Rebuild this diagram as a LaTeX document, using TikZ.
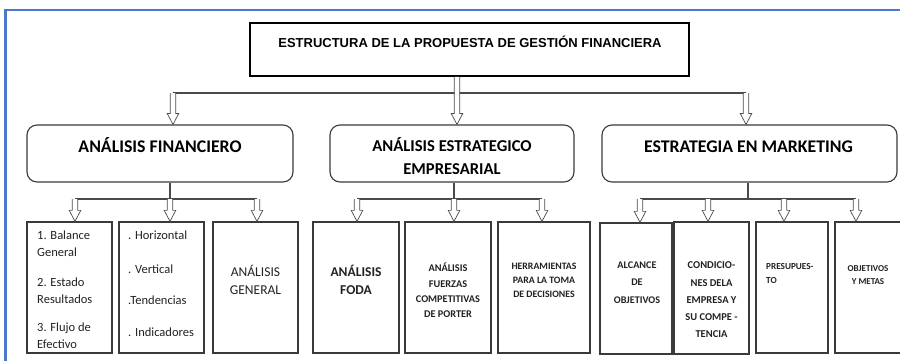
\documentclass[tikz,border=0pt]{standalone}
\usepackage{fontspec}
\setmainfont{Carlito}
\newfontfamily\arialf{Liberation Sans}
\usetikzlibrary{calc}
\definecolor{framec}{HTML}{4A78CF}
\definecolor{linec}{HTML}{4A4A4A}
\definecolor{boxc}{HTML}{3A3A3A}
\definecolor{txtc}{HTML}{222222}
\tikzset{
  titlebox/.style={draw=black, line width=1.8pt, inner sep=0pt},
  roundbox/.style={draw=boxc, line width=1.1pt, rounded corners=10pt, inner sep=0pt, minimum height=57pt},
  leafbox/.style={draw=boxc, line width=1.3pt, inner sep=0pt},
  bar/.style={draw=linec, line width=1.1pt},
  harrow/.style={draw=linec, line width=0.7pt, fill=white,
    to path={let \p1=(\tikztostart), \p2=(\tikztotarget) in
      (\x1-2.7pt,\y1) -- (\x1-2.7pt,\y2+11pt) -- (\x1-5.8pt,\y2+11pt) -- (\x1,\y2)
      -- (\x1+5.8pt,\y2+11pt) -- (\x1+2.7pt,\y2+11pt) -- (\x1+2.7pt,\y1)}},
  txt/.style={inner sep=0pt, text=txtc},
  headtxt/.style={inner sep=0pt, text=black, font=\bfseries\fontsize{17.8}{20}\selectfont, anchor=base},
  bodytxt/.style={txt, font=\fontsize{12.5}{15}\selectfont, anchor=base west},
  bigleaf/.style={txt, font=\fontsize{13.5}{16}\selectfont, anchor=base},
  smallleaf/.style={txt, font=\bfseries\fontsize{#1}{12}\selectfont, anchor=base},
  smallleaf/.default=10
}
\begin{document}
\begin{tikzpicture}[x=1pt,y=-1pt]
\useasboundingbox (0,0) rectangle (900,360);
\clip (0,0) rectangle (900,360);
\fill[white] (0,0) rectangle (900,360);
% blue frame
\draw[framec, line width=2.2pt] (5.5,380) -- (5.5,10) -- (920,10);

% title
\node[titlebox, minimum width=439pt, minimum height=53pt] (T) at (469.5,49.5) {};
\node[inner sep=0pt, anchor=base, font=\arialf\bfseries\fontsize{13}{15}\selectfont] (Tt) at (470,47) {ESTRUCTURA DE LA PROPUESTA DE GESTIÓN FINANCIERA};

% level 2 boxes
\node[roundbox, minimum width=266pt] (A) at (160,153.5) {};
\node[roundbox, minimum width=244pt] (B) at (452,153.5) {};
\node[roundbox, minimum width=295pt] (C) at (749.5,153.5) {};
\node[headtxt] (At) at (160,152) {ANÁLISIS FINANCIERO};
\node[headtxt, font=\bfseries\fontsize{16.6}{20}\selectfont] (Bt1) at (452,151) {ANÁLISIS ESTRATEGICO};
\node[headtxt, font=\bfseries\fontsize{16.6}{20}\selectfont] (Bt2) at (452,174) {EMPRESARIAL};
\node[headtxt] (Ct) at (748.5,152) {ESTRATEGIA EN MARKETING};

% level 3 boxes
\node[leafbox, minimum width=85pt, minimum height=131pt] (A1) at (69.5,287.5) {};
\node[leafbox, minimum width=85pt, minimum height=131pt] (A2) at (161.5,287.5) {};
\node[leafbox, minimum width=85pt, minimum height=131pt] (A3) at (255.5,287.5) {};
\node[leafbox, minimum width=86pt, minimum height=131pt] (B1) at (356,287.5) {};
\node[leafbox, minimum width=86pt, minimum height=131pt] (B2) at (448,287.5) {};
\node[leafbox, minimum width=92pt, minimum height=131pt] (B3) at (544,287.5) {};
\node[leafbox, minimum width=72pt, minimum height=131pt] (C1) at (636,288.5) {};
\node[leafbox, minimum width=75pt, minimum height=132pt] (C2) at (711.5,288) {};
\node[leafbox, minimum width=72pt, minimum height=131pt] (C3) at (792,287.5) {};
\node[leafbox, minimum width=70pt, minimum height=131pt] (C4) at (870,287.5) {};

% top connectors
\coordinate (ta) at (173,93);
\coordinate (tb) at (457,93);
\coordinate (tc) at (746,93);
\draw[bar] (ta) -- (tc);
\draw[harrow] (ta) to (ta |- A.north);
\draw[harrow] (tb |- T.south) to (tb |- B.north);
\draw[harrow] (tc) to (tc |- C.north);

% A connectors
\coordinate (sa) at (170,199);
\coordinate (a1) at (75,199);
\coordinate (a3) at (257,199);
\draw[bar] (sa |- A.south) -- (sa);
\draw[bar] (a1) -- (a3);
\draw[harrow] (a1) to (a1 |- A1.north);
\draw[harrow] (sa) to (sa |- A2.north);
\draw[harrow] (a3) to (a3 |- A3.north);

% B connectors
\coordinate (sb) at (454,199);
\coordinate (b1) at (357,199);
\coordinate (b3) at (542,199);
\draw[bar] (sb |- B.south) -- (sb);
\draw[bar] (b1) -- (b3);
\draw[harrow] (b1) to (b1 |- B1.north);
\draw[harrow] (sb) to (sb |- B2.north);
\draw[harrow] (b3) to (b3 |- B3.north);

% C connectors
\coordinate (sc) at (748,199);
\coordinate (c1) at (640,199);
\coordinate (c2) at (708,199);
\coordinate (c3) at (784,199);
\coordinate (c4) at (856,199);
\draw[bar] (sc |- C.south) -- (sc);
\draw[bar] (c1) -- (c4);
\draw[harrow] (c1) to (c1 |- C1.north);
\draw[harrow] (c2) to (c2 |- C2.north);
\draw[harrow] (c3) to (c3 |- C3.north);
\draw[harrow] (c4) to (c4 |- C4.north);

% leaf texts
\foreach \t/\y [count=\i] in {1. Balance/239, General/256, 2. Estado/286, Resultados/303, 3. Flujo de/331, Efectivo/348}
  \node[bodytxt] (a1t\i) at (37,\y) {\t};
\foreach \t/\y [count=\i] in {. Horizontal/239, . Vertical/273, .Tendencias/304, . Indicadores/336}
  \node[bodytxt] (a2t\i) at (128,\y) {\t};
\foreach \t/\y [count=\i] in {ANÁLISIS/276, GENERAL/294}
  \node[bigleaf] (a3t\i) at (255.5,\y) {\t};
\foreach \t/\y [count=\i] in {ANÁLISIS/276, FODA/294}
  \node[bigleaf, font=\bfseries\fontsize{13.5}{16}\selectfont] (b1t\i) at (356,\y) {\t};
\foreach \t/\y [count=\i] in {ANÁLISIS/271, FUERZAS/287, COMPETITIVAS/302, DE PORTER/317}
  \node[smallleaf=10.3] (b2t\i) at (448,\y) {\t};
\foreach \t/\y [count=\i] in {HERRAMIENTAS/269, PARA LA TOMA/283, DE DECISIONES/297}
  \node[smallleaf=9.8] (b3t\i) at (544,\y) {\t};
\foreach \t/\y [count=\i] in {ALCANCE/268, DE/285.5, OBJETIVOS/303}
  \node[smallleaf=10.2] (c1t\i) at (637,\y) {\t};
\foreach \t/\y [count=\i] in {CONDICIO-/268, NES DELA/286, EMPRESA Y/303, SU COMPE -/320, TENCIA/337}
  \node[smallleaf=10.5] (c2t\i) at (711.5,\y) {\t};
\foreach \t/\y [count=\i] in {PRESUPUES-/269, TO/283}
  \node[smallleaf=9.2, anchor=base west] (c3t\i) at (766,\y) {\t};
\foreach \t/\y [count=\i] in {OBJETIVOS/271, Y METAS/284.5}
  \node[smallleaf=9] (c4t\i) at (868,\y) {\t};
\end{tikzpicture}
\end{document}
